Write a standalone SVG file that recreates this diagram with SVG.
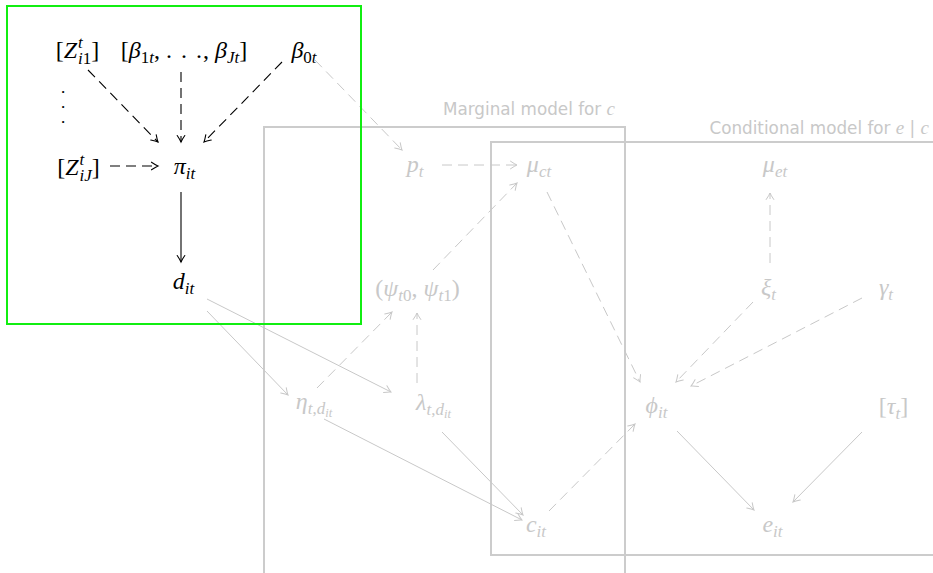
<svg xmlns="http://www.w3.org/2000/svg" width="933" height="573" viewBox="0 0 933 573">
<style>
.m{font-family:"Liberation Serif","DejaVu Serif",serif;font-size:24px;font-style:italic}
.k{fill:#000}
.g{fill:#c8c8c8}
.r{font-style:normal}
.s{font-size:17px}
.ss{font-size:12.5px}
.dots{font-family:"Liberation Serif",serif;font-size:13px;font-weight:bold;fill:#000}
.lab{font-family:"DejaVu Sans","Liberation Sans",sans-serif;font-size:16.8px;fill:#c8c8c8}
.lab .it{font-family:"Liberation Serif",serif;font-style:italic;font-size:19px}
.frame{fill:none;stroke:#cccccc;stroke-width:2}
.cb{stroke:#000;stroke-width:1.1;fill:none;marker-end:url(#ab)}
.cg{stroke:#c8c8c8;stroke-width:1;fill:none;marker-end:url(#ag)}
.d{stroke-dasharray:10 6}
</style>
<defs>
<marker id="ab" markerUnits="userSpaceOnUse" markerWidth="12" markerHeight="12" viewBox="-8 -6 10 12" refX="0" refY="0" orient="auto">
<path d="M-6.5,-3.8 Q-2.2,-0.9 0,0 Q-2.2,0.9 -6.5,3.8" fill="none" stroke="#000" stroke-width="1.1" stroke-linecap="round"/>
</marker>
<marker id="ag" markerUnits="userSpaceOnUse" markerWidth="12" markerHeight="12" viewBox="-8 -6 10 12" refX="0" refY="0" orient="auto">
<path d="M-6.5,-3.8 Q-2.2,-0.9 0,0 Q-2.2,0.9 -6.5,3.8" fill="none" stroke="#c8c8c8" stroke-width="1" stroke-linecap="round"/>
</marker>
</defs>
<rect width="933" height="573" fill="#fff"/>

<g id="plates">
<path class="frame" d="M264,575 V127 H625 V575"/>
<path class="frame" d="M935,142 H491 V555 H935"/>
<text class="lab" x="615" y="115" text-anchor="end">Marginal model for <tspan class="it">c</tspan></text>
<text class="lab" x="929" y="134" text-anchor="end">Conditional model for <tspan class="it">e</tspan> | <tspan class="it">c</tspan></text>
</g>

<g id="connectors">
<line class="cg d" x1="315" y1="60" x2="402" y2="150"/>
<line class="cg d" x1="442" y1="165" x2="517" y2="165"/>
<line class="cg d" x1="433" y1="270" x2="517" y2="183"/>
<line class="cg d" x1="547" y1="192" x2="640" y2="382"/>
<line class="cg d" x1="317" y1="388" x2="392" y2="312"/>
<line class="cg d" x1="417" y1="383" x2="417" y2="313"/>
<line class="cg d" x1="549" y1="511" x2="635" y2="424"/>
<line class="cg d" x1="770" y1="263" x2="770" y2="193"/>
<line class="cg d" x1="753" y1="302" x2="676" y2="382"/>
<line class="cg d" x1="862" y1="298" x2="691" y2="386"/>
<line class="cg" x1="207" y1="311" x2="288" y2="395"/>
<line class="cg" x1="207" y1="299" x2="391" y2="392"/>
<line class="cg" x1="324" y1="419" x2="522" y2="520"/>
<line class="cg" x1="442" y1="432" x2="523" y2="515"/>
<line class="cg" x1="677" y1="431" x2="754" y2="510"/>
<line class="cg" x1="862" y1="432" x2="793" y2="502"/>
<line class="cb d" x1="88" y1="70" x2="158" y2="142"/>
<line class="cb d" x1="181" y1="72" x2="181" y2="142"/>
<line class="cb d" x1="282" y1="62" x2="204" y2="142"/>
<line class="cb d" x1="110" y1="166" x2="158" y2="166"/>
<line class="cb" x1="181" y1="192" x2="181" y2="262"/>
</g>

<g id="n-Zi1"><text class="m k" x="77.5" y="58" text-anchor="middle"><tspan class="r">[</tspan>Z<tspan class="s" dx="1" dy="-10">t</tspan><tspan class="s" dx="-4.7" dy="16">i</tspan><tspan class="s r">1</tspan><tspan class="r" dy="-6">]</tspan></text></g>
<g id="n-beta"><text class="m k" x="184" y="58" text-anchor="middle"><tspan class="r">[</tspan>β<tspan class="s" dy="5"><tspan class="r">1</tspan>t</tspan><tspan class="r" dy="-5">, </tspan><tspan class="r">.</tspan><tspan class="r" dx="9">.</tspan><tspan class="r" dx="9">.</tspan><tspan class="r" dx="1">, </tspan>β<tspan class="s" dy="5">Jt</tspan><tspan class="r" dy="-5">]</tspan></text></g>
<g id="n-beta0"><text class="m k" x="304" y="58" text-anchor="middle">β<tspan class="s" dy="5"><tspan class="r">0</tspan>t</tspan></text></g>
<g id="n-vdots"><text class="dots" text-anchor="middle"><tspan x="63" y="93">.</tspan><tspan x="63" y="108">.</tspan><tspan x="63" y="123">.</tspan></text></g>
<g id="n-ZiJ"><text class="m k" x="78.5" y="175" text-anchor="middle"><tspan class="r">[</tspan>Z<tspan class="s" dx="1" dy="-10">t</tspan><tspan class="s" dx="-4.7" dy="16">iJ</tspan><tspan class="r" dy="-6">]</tspan></text></g>
<g id="n-pi"><text class="m k" x="184.5" y="174" text-anchor="middle">π<tspan class="s" dy="5">it</tspan></text></g>
<g id="n-d"><text class="m k" x="183.5" y="289" text-anchor="middle">d<tspan class="s" dy="5">it</tspan></text></g>

<g id="n-p"><text class="m g" x="415" y="172" text-anchor="middle">p<tspan class="s" dy="5">t</tspan></text></g>
<g id="n-muc"><text class="m g" x="539" y="172" text-anchor="middle">μ<tspan class="s" dy="5">ct</tspan></text></g>
<g id="n-mue"><text class="m g" x="775" y="172" text-anchor="middle">μ<tspan class="s" dy="5">et</tspan></text></g>
<g id="n-psi"><text class="m g" x="417.5" y="296" text-anchor="middle"><tspan class="r">(</tspan>ψ<tspan class="s" dy="5">t<tspan class="r">0</tspan></tspan><tspan class="r" dy="-5">, </tspan>ψ<tspan class="s" dy="5">t<tspan class="r">1</tspan></tspan><tspan class="r" dy="-5">)</tspan></text></g>
<g id="n-xi"><text class="m g" x="768.5" y="295" text-anchor="middle">ξ<tspan class="s" dy="5">t</tspan></text></g>
<g id="n-gamma"><text class="m g" x="886" y="295" text-anchor="middle">γ<tspan class="s" dy="5">t</tspan></text></g>
<g id="n-eta"><text class="m g" x="314" y="409" text-anchor="middle">η<tspan class="s" dy="5">t<tspan class="r">,</tspan>d</tspan><tspan class="ss" dy="3">it</tspan></text></g>
<g id="n-lambda"><text class="m g" x="433.5" y="410" text-anchor="middle">λ<tspan class="s" dy="5">t<tspan class="r">,</tspan>d</tspan><tspan class="ss" dy="3">it</tspan></text></g>
<g id="n-phi"><text class="m g" x="656.5" y="413" text-anchor="middle">ϕ<tspan class="s" dy="5">it</tspan></text></g>
<g id="n-tau"><text class="m g" x="893.5" y="414" text-anchor="middle"><tspan class="r">[</tspan>τ<tspan class="s" dy="5">t</tspan><tspan class="r" dy="-5">]</tspan></text></g>
<g id="n-c"><text class="m g" x="536" y="532" text-anchor="middle">c<tspan class="s" dy="5">it</tspan></text></g>
<g id="n-e"><text class="m g" x="772.5" y="532" text-anchor="middle">e<tspan class="s" dy="5">it</tspan></text></g>

<g id="highlight"><rect x="7" y="6" width="354" height="318" fill="none" stroke="#11ee11" stroke-width="2"/></g>
</svg>
